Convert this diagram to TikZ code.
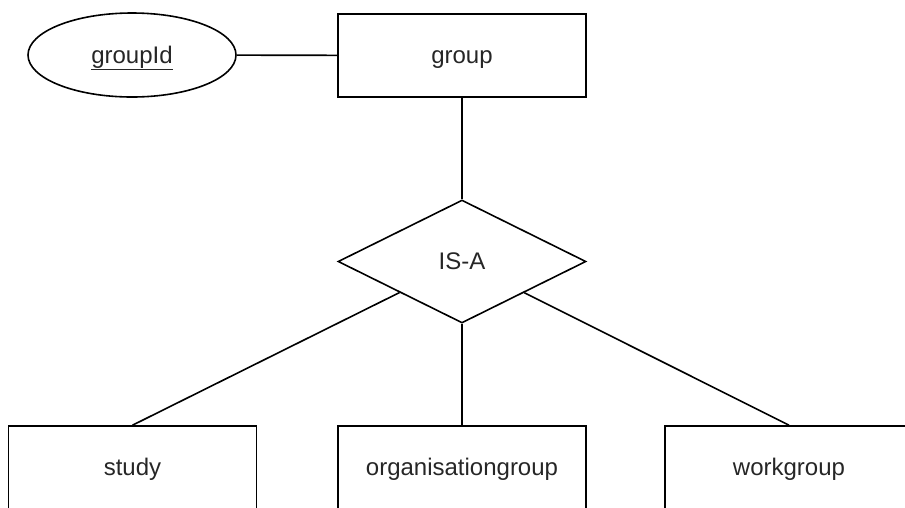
\documentclass[tikz,border=0pt]{standalone}
\usepackage{fontspec}
\setmainfont{Liberation Sans}
\usetikzlibrary{shapes.geometric}
\begin{document}
\begin{tikzpicture}[x=1pt,y=-1pt,
  every node/.style={font=\fontsize{24}{28}\selectfont, text=black!85, text height=17pt, text depth=1pt},
  entity/.style={draw=black, line width=1.6pt, rectangle, minimum width=248pt, minimum height=83pt, inner sep=0pt},
  attr/.style={draw=black, line width=1.6pt, ellipse, minimum width=208pt, minimum height=84pt, inner sep=0pt},
  rel/.style={draw=black, line width=1.6pt, diamond, minimum width=248pt, minimum height=123pt, inner sep=0pt, aspect=2},
  link/.style={draw=black, line width=1.6pt}]
  \useasboundingbox (0,0) rectangle (905,507);

  % entity, key attribute and specialisation
  \node[attr] (gid) at (132,55) {\underline{groupId}};
  \node[entity] (group) at (462,55.5) {group};
  \node[rel] (isa) at (462,261.5) {IS-A};

  % subclasses (cut by the lower edge)
  \node[entity] (study) at (132.5,467.5) {study};
  \node[entity] (org) at (462,467.5) {organisationgroup};
  \node[entity] (work) at (789,467.5) {workgroup};

  % connectors
  \draw[link] (gid) -- (group);
  \draw[link] (group) -- (isa);
  \draw[link] (isa) -- (study.north);
  \draw[link] (isa) -- (org);
  \draw[link] (isa) -- (work.north);
\end{tikzpicture}
\end{document}
